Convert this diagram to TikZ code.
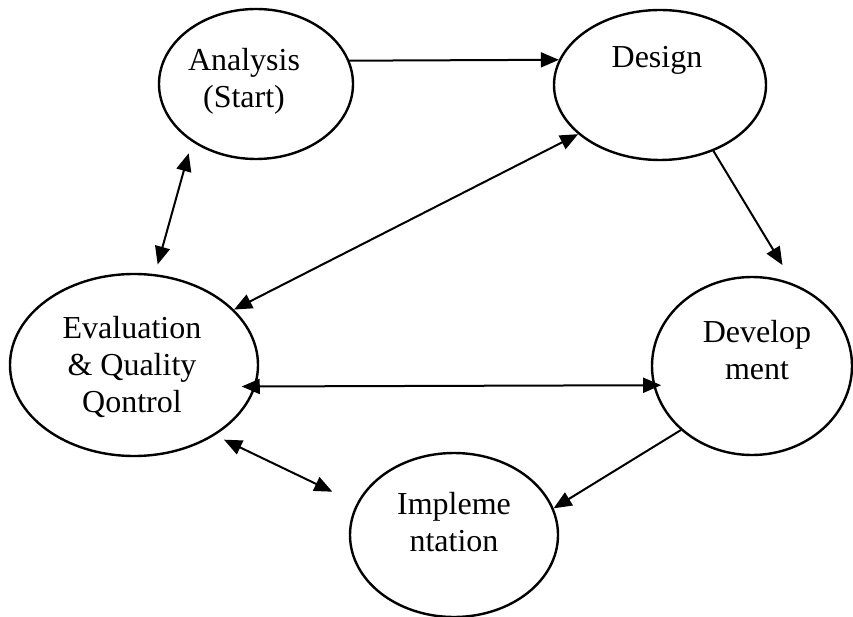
\documentclass[tikz,border=0pt]{standalone}
\usepackage{fontspec}
\setmainfont{Liberation Serif}
\usetikzlibrary{shapes.geometric,arrows.meta}

\begin{document}
\begin{tikzpicture}[x=1pt, y=-1pt, line join=round, line cap=round,
    font=\fontsize{32}{37}\selectfont,
    >={Triangle[length=18pt,width=15pt]},
    phase/.style={draw, ellipse, line width=2.4pt, inner sep=0pt},
    txt/.style={align=center, inner sep=0pt},
    arr/.style={line width=2pt}]
  \useasboundingbox (0,0) rectangle (853,617);
  % the five phases, outlines and their texts
  \node[phase, minimum width=194pt, minimum height=150pt] (ana) at (256,84) {};
  \node[phase, minimum width=212pt, minimum height=150pt] (des) at (660,85) {};
  \node[phase, minimum width=248pt, minimum height=182pt] (eval) at (134,365) {};
  \node[phase, minimum width=200pt, minimum height=178pt] (dev) at (752,366) {};
  \node[phase, minimum width=208pt, minimum height=164pt] (impl) at (454,535) {};
  \node[txt] (anatext) at (244,81) {Analysis\\(Start)};
  \node[txt] (destext) at (657,60) {Design};
  \node[txt] (evaltext) at (132,367) {Evaluation\\\& Quality\\Qontrol};
  \node[txt] (devtext) at (757,350) {Develop\\ment};
  \node[txt] (impltext) at (454,522) {Impleme\\ntation};
  % flow between phases
  \draw[arr,->] (ana.14.8) -- (des.166.6);
  \draw[arr,->,shorten >=22pt] (des.-51.3) -- (dev.63.7);
  \draw[arr,->] (dev.222) -- (impl.15.9);
  \draw[arr,<->,shorten <=10pt,shorten >=12pt] (eval.77.5) -- (ana.222);
  \draw[arr,<->] (eval.29.1) -- (des.211.4);
  \draw[arr,<->,shorten <=-14pt,shorten >=-8pt] (eval.-10.5) -- (dev.191.7);
  \draw[arr,<->,shorten <=10pt,shorten >=27pt] (eval.-41.9) -- (impl.162);
\end{tikzpicture}
\end{document}
